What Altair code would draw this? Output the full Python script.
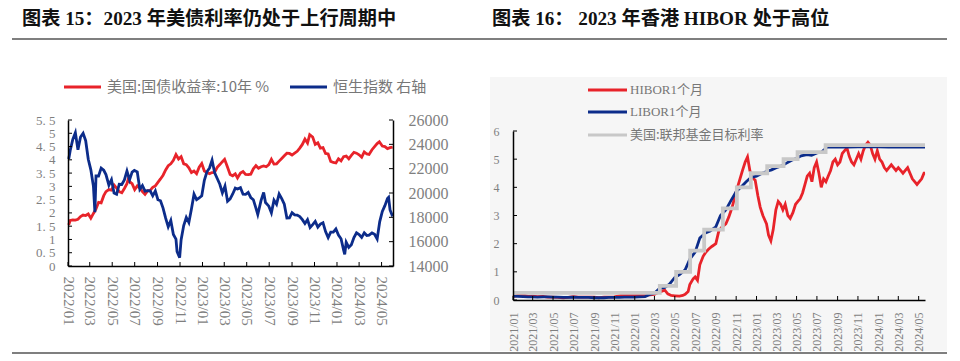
import altair as alt
import pandas as pd

# ---------------- left panel data ----------------
us10y_dates = ["2022-01-03","2022-01-07","2022-01-14","2022-01-21","2022-01-28","2022-02-04","2022-02-11","2022-02-18","2022-02-25",
"2022-03-04","2022-03-11","2022-03-18","2022-03-25","2022-04-01","2022-04-08","2022-04-14","2022-04-22","2022-04-29",
"2022-05-06","2022-05-13","2022-05-20","2022-05-27","2022-06-03","2022-06-10","2022-06-14","2022-06-17","2022-06-24",
"2022-07-01","2022-07-08","2022-07-15","2022-07-22","2022-07-29","2022-08-05","2022-08-12","2022-08-19","2022-08-26",
"2022-09-02","2022-09-09","2022-09-16","2022-09-23","2022-09-30","2022-10-07","2022-10-14","2022-10-21","2022-10-28",
"2022-11-04","2022-11-11","2022-11-18","2022-11-25","2022-12-02","2022-12-09","2022-12-16","2022-12-23","2022-12-30",
"2023-01-06","2023-01-13","2023-01-20","2023-01-27","2023-02-03","2023-02-10","2023-02-17","2023-02-24","2023-03-02",
"2023-03-10","2023-03-17","2023-03-24","2023-03-31","2023-04-06","2023-04-14","2023-04-21","2023-04-28","2023-05-05",
"2023-05-12","2023-05-19","2023-05-26","2023-06-02","2023-06-09","2023-06-16","2023-06-23","2023-06-30","2023-07-07",
"2023-07-14","2023-07-21","2023-07-28","2023-08-04","2023-08-11","2023-08-18","2023-08-25","2023-09-01","2023-09-08",
"2023-09-15","2023-09-22","2023-09-29","2023-10-06","2023-10-13","2023-10-19","2023-10-27","2023-11-03","2023-11-10",
"2023-11-17","2023-11-24","2023-12-01","2023-12-08","2023-12-15","2023-12-22","2023-12-29","2024-01-05","2024-01-12",
"2024-01-19","2024-01-26","2024-02-02","2024-02-09","2024-02-16","2024-02-23","2024-03-01","2024-03-08","2024-03-15",
"2024-03-22","2024-03-28","2024-04-05","2024-04-12","2024-04-19","2024-04-25","2024-05-03","2024-05-10","2024-05-17",
"2024-05-24","2024-05-31"]
us10y_values = [1.55,1.72,1.74,1.73,1.76,1.86,1.92,1.90,1.96,
1.80,1.98,2.15,2.40,2.38,2.65,2.80,2.88,2.86,
3.05,2.93,2.80,2.76,2.92,3.10,3.30,3.18,3.10,
2.88,3.02,2.93,2.80,2.70,2.83,2.85,2.96,3.02,
3.15,3.28,3.42,3.62,3.78,3.85,3.98,4.20,4.03,
4.12,3.85,3.82,3.70,3.52,3.58,3.48,3.72,3.86,
3.58,3.52,3.48,3.52,3.53,3.72,3.82,3.93,4.02,
3.72,3.45,3.40,3.47,3.32,3.50,3.56,3.45,3.44,
3.46,3.66,3.78,3.68,3.74,3.77,3.74,3.82,4.02,
3.84,3.85,3.95,4.05,4.15,4.25,4.24,4.18,4.25,
4.32,4.44,4.58,4.78,4.63,4.95,4.86,4.58,4.64,
4.44,4.46,4.24,4.22,3.94,3.90,3.88,4.04,3.96,
4.12,4.14,4.04,4.17,4.28,4.25,4.19,4.10,4.30,
4.22,4.20,4.38,4.50,4.61,4.68,4.52,4.50,4.42,
4.46,4.48]

hsi_dates = ["2022-01-03","2022-01-07","2022-01-14","2022-01-21","2022-01-28","2022-02-04","2022-02-11","2022-02-18","2022-02-25",
"2022-03-04","2022-03-11","2022-03-15","2022-03-18","2022-03-25","2022-04-01","2022-04-08","2022-04-14","2022-04-22","2022-04-29",
"2022-05-06","2022-05-13","2022-05-20","2022-05-27","2022-06-03","2022-06-10","2022-06-17","2022-06-24","2022-06-30",
"2022-07-08","2022-07-15","2022-07-22","2022-07-29","2022-08-05","2022-08-12","2022-08-19","2022-08-26",
"2022-09-02","2022-09-09","2022-09-16","2022-09-23","2022-09-30","2022-10-07","2022-10-14","2022-10-21","2022-10-24","2022-10-31",
"2022-11-04","2022-11-11","2022-11-18","2022-11-25","2022-12-02","2022-12-09","2022-12-16","2022-12-23","2022-12-30",
"2023-01-06","2023-01-13","2023-01-20","2023-01-27","2023-02-03","2023-02-10","2023-02-17","2023-02-24",
"2023-03-03","2023-03-10","2023-03-17","2023-03-24","2023-03-31","2023-04-06","2023-04-14","2023-04-21","2023-04-28",
"2023-05-05","2023-05-12","2023-05-19","2023-05-26","2023-05-31","2023-06-09","2023-06-16","2023-06-21","2023-06-30",
"2023-07-07","2023-07-14","2023-07-21","2023-07-28","2023-08-04","2023-08-11","2023-08-18","2023-08-25",
"2023-09-01","2023-09-08","2023-09-15","2023-09-22","2023-09-29","2023-10-06","2023-10-13","2023-10-20","2023-10-27",
"2023-11-03","2023-11-10","2023-11-17","2023-11-24","2023-12-01","2023-12-08","2023-12-15","2023-12-22","2023-12-29",
"2024-01-05","2024-01-12","2024-01-19","2024-01-22","2024-01-26","2024-02-02","2024-02-09","2024-02-16","2024-02-23",
"2024-03-01","2024-03-08","2024-03-15","2024-03-22","2024-03-28","2024-04-05","2024-04-12","2024-04-19","2024-04-26",
"2024-05-03","2024-05-10","2024-05-17","2024-05-20","2024-05-24","2024-05-31"]
hsi_values = [22800,23500,24400,24950,23550,24600,24900,24300,22770,
21900,20550,18420,21410,21400,22040,21870,21520,20640,21090,
20000,19900,20720,20700,21080,21810,21080,21720,21860,
21730,20300,20610,20160,20200,20180,19770,20170,
19450,19360,18760,17930,17220,17740,16590,16210,15180,14690,
16160,17330,17990,17570,18680,19900,19450,19590,19780,
21050,21740,22050,22690,21660,21190,20720,20010,
20570,19320,19520,19920,20400,20330,20440,19900,19890,
20050,19630,19450,18750,18230,19390,20040,19220,18920,
18370,19410,19080,19920,19540,19080,17950,17960,
18380,18200,18180,18060,17810,17490,17810,17170,17400,
17660,17200,17450,17560,16830,16340,16790,16790,17050,
16540,16240,15310,14960,15950,15530,15750,16340,16730,
16590,16350,16720,16500,16540,16720,16600,16220,17650,
18480,18960,19550,19640,18610,18080]

left_tick_months = ["2022-01","2022-03","2022-05","2022-07","2022-09","2022-11","2023-01","2023-03",
"2023-05","2023-07","2023-09","2023-11","2024-01","2024-03","2024-05"]
left_yield_ticks = [0, 0.5, 1, 1.5, 2, 2.5, 3, 3.5, 4, 4.5, 5, 5.5]
left_hsi_ticks = [14000, 16000, 18000, 20000, 22000, 24000, 26000]

# ---------------- right panel data ----------------
hibor_dates = ["2021-01-01","2021-01-15","2021-02-01","2021-02-15","2021-03-01","2021-03-15","2021-04-01","2021-04-15",
"2021-05-01","2021-05-15","2021-06-01","2021-06-15","2021-07-01","2021-07-15","2021-08-01","2021-08-15","2021-09-01",
"2021-09-15","2021-10-01","2021-10-15","2021-11-01","2021-11-15","2021-12-01","2021-12-15","2022-01-01","2022-01-15",
"2022-02-01","2022-02-15","2022-03-01","2022-03-15","2022-04-01","2022-04-10","2022-04-20","2022-05-01","2022-05-15",
"2022-05-25","2022-06-01","2022-06-10","2022-06-15","2022-06-25","2022-07-01","2022-07-08","2022-07-15","2022-07-25",
"2022-08-01","2022-08-10","2022-08-20","2022-09-01","2022-09-10","2022-09-20","2022-10-01","2022-10-10","2022-10-20",
"2022-11-01","2022-11-10","2022-11-20","2022-11-28","2022-12-05","2022-12-12","2022-12-19","2022-12-28","2023-01-05",
"2023-01-12","2023-01-20","2023-01-31","2023-02-06","2023-02-13","2023-02-20","2023-02-28","2023-03-07","2023-03-14",
"2023-03-21","2023-03-28","2023-04-05","2023-04-12","2023-04-20","2023-04-28","2023-05-05","2023-05-12","2023-05-19",
"2023-05-26","2023-06-02","2023-06-09","2023-06-16","2023-06-23","2023-06-30","2023-07-07","2023-07-14","2023-07-21",
"2023-07-28","2023-08-04","2023-08-11","2023-08-18","2023-08-25","2023-09-01","2023-09-08","2023-09-15","2023-09-22",
"2023-09-29","2023-10-06","2023-10-13","2023-10-20","2023-10-27","2023-11-03","2023-11-10","2023-11-17","2023-11-24",
"2023-12-01","2023-12-08","2023-12-15","2023-12-22","2023-12-29","2024-01-05","2024-01-12","2024-01-19","2024-01-26",
"2024-02-02","2024-02-09","2024-02-16","2024-02-23","2024-03-01","2024-03-08","2024-03-15","2024-03-22","2024-03-29",
"2024-04-05","2024-04-12","2024-04-19","2024-04-26","2024-05-03","2024-05-10","2024-05-17","2024-05-20"]
hibor_values = [0.12,0.16,0.18,0.13,0.14,0.12,0.13,0.10,
0.10,0.09,0.08,0.09,0.12,0.10,0.10,0.10,0.10,
0.08,0.10,0.10,0.11,0.15,0.20,0.19,0.17,0.18,
0.17,0.18,0.20,0.28,0.35,0.22,0.16,0.15,0.14,
0.16,0.20,0.30,0.55,0.75,0.82,0.70,1.25,1.55,
1.68,1.80,1.90,2.00,2.45,2.60,2.70,2.95,3.30,
3.85,4.20,4.60,4.90,5.08,4.60,4.35,4.25,3.70,
3.30,3.00,2.70,2.30,2.10,2.50,3.20,3.50,3.40,
3.20,3.40,3.00,2.90,3.10,3.40,3.50,3.60,3.80,
4.10,4.40,4.50,4.20,4.70,4.90,4.50,4.00,4.30,
4.20,4.40,4.60,4.90,5.00,4.80,4.90,5.20,5.30,
5.40,5.10,4.90,4.80,5.00,5.20,5.00,5.30,5.50,
5.60,5.50,5.20,5.00,5.30,5.00,4.90,4.70,4.60,
4.70,4.80,4.70,4.60,4.70,4.60,4.50,4.60,4.70,
4.50,4.30,4.20,4.10,4.20,4.30,4.50,4.50]

libor_dates = ["2021-01-01","2021-01-15","2021-02-01","2021-02-15","2021-03-01","2021-03-15","2021-04-01","2021-04-15",
"2021-05-01","2021-05-15","2021-06-01","2021-06-15","2021-07-01","2021-07-15","2021-08-01","2021-08-15","2021-09-01",
"2021-09-15","2021-10-01","2021-10-15","2021-11-01","2021-11-15","2021-12-01","2021-12-15","2022-01-01","2022-01-15",
"2022-02-01","2022-02-15","2022-03-01","2022-03-15","2022-04-01","2022-04-15","2022-05-01","2022-05-15","2022-06-01",
"2022-06-15","2022-07-01","2022-07-15","2022-08-01","2022-08-15","2022-09-01","2022-09-15","2022-10-01","2022-10-15",
"2022-11-01","2022-11-15","2022-12-01","2022-12-15","2023-01-01","2023-01-15","2023-02-01","2023-02-15","2023-03-01",
"2023-03-15","2023-04-01","2023-04-15","2023-05-01","2023-05-15","2023-06-01","2023-06-15","2023-07-01","2023-07-15",
"2023-08-01","2023-09-01","2023-10-01","2023-11-01","2023-12-01","2024-01-01","2024-02-01","2024-03-01","2024-04-01",
"2024-05-01","2024-05-20"]
libor_values = [0.14,0.13,0.12,0.11,0.11,0.10,0.11,0.11,
0.10,0.10,0.09,0.09,0.10,0.09,0.09,0.09,0.08,
0.08,0.08,0.09,0.09,0.09,0.10,0.10,0.10,0.11,
0.12,0.20,0.24,0.40,0.45,0.56,0.80,0.90,1.07,
1.45,1.70,2.20,2.38,2.45,2.60,3.00,3.20,3.50,
3.85,4.00,4.20,4.35,4.40,4.48,4.57,4.62,4.70,
4.75,4.86,4.95,5.03,5.12,5.16,5.14,5.22,5.25,
5.43,5.43,5.43,5.44,5.45,5.44,5.43,5.43,5.43,
5.43,5.43]

fed_dates = ["2021-01-01","2022-03-17","2022-05-05","2022-06-16","2022-07-28","2022-09-22","2022-11-03",
"2022-12-15","2023-02-02","2023-03-23","2023-05-04","2023-07-27","2024-05-20"]
fed_values = [0.25,0.50,1.00,1.75,2.50,3.25,4.00,4.50,4.75,5.00,5.25,5.50,5.50]

right_tick_months = ["2021-01","2021-03","2021-05","2021-07","2021-09","2021-11","2022-01","2022-03","2022-05",
"2022-07","2022-09","2022-11","2023-01","2023-03","2023-05","2023-07","2023-09","2023-11","2024-01","2024-03","2024-05"]
right_y_ticks = [0, 1, 2, 3, 4, 5, 6]

# ---------------- texts ----------------
title_left = "图表 15：2023 年美债利率仍处于上行周期中"
title_right = "图表 16：  2023 年香港 HIBOR 处于高位"
legend_left = ["美国:国债收益率:10年 %", "恒生指数 右轴"]
legend_right = ["HIBOR1个月", "LIBOR1个月", "美国:联邦基金目标利率"]

# ---------------- styles / layout (pixels inside the chart) ----------------
RED = "#e8232a"
BLUE = "#0c2c8a"
GRAY = "#c8c8c8"
LABEL = "#7f7f7f"
SERIF = "Liberation Serif"
MIXED = "Liberation Serif, Noto Sans CJK SC"
CJK = "Noto Sans CJK SC"

W, H = 944, 350
# left panel plot box
LX0, LX1, LY0, LY1 = 60, 385, 112, 258
# right panel plot box
RX0, RX1, RY0, RY1 = 505, 917, 123, 292
FOOT = 345


def dt(s):
    return alt.DateTime(year=int(s[:4]), month=int(s[5:7]), date=int(s[8:10]) if len(s) > 7 else 1)


def text_layer(txt, x, y, size, color, weight="normal", font=MIXED):
    return alt.Chart(pd.DataFrame({"t": [txt]})).mark_text(
        align="left", baseline="middle", fontSize=size, font=font,
        color=color, fontWeight=weight
    ).encode(text="t:N", x=alt.value(x), y=alt.value(y))


def hline(x1, x2, y, color, width):
    return alt.Chart(pd.DataFrame({"a": [0]})).mark_rule(
        color=color, strokeWidth=width
    ).encode(x=alt.value(x1), x2=alt.value(x2), y=alt.value(y))


def x_axis(values, angle, size, pad, y_pos):
    return alt.Axis(title=None, format="%Y/%m", values=values, labelAngle=angle,
                    orient="bottom", offset=y_pos - H, zindex=1,
                    ticks=False, tickSize=0, grid=False, labelOverlap=False,
                    labelFlush=False, labelColor=LABEL, labelFont=SERIF,
                    labelFontSize=size, labelPadding=pad, domainColor="#000",
                    domainWidth=1.5)


def y_axis(values, orient, x_pos, size, pad, fmt, expr=None):
    off = -x_pos if orient == "left" else x_pos - W
    kw = dict(title=None, values=values, orient=orient, offset=off, zindex=1,
              ticks=False, tickSize=0, grid=False, labelColor=LABEL,
              labelFont=SERIF, labelFontSize=size, labelPadding=pad,
              domainColor="#000", domainWidth=1.5, format=fmt, labelOverlap=False)
    if expr:
        kw["labelExpr"] = expr
    return alt.Axis(**kw)


# ---------------- left panel ----------------
xs_left = alt.Scale(domain=[dt("2022-01"), dt("2024-06")], range=[LX0, LX1])
ys_yield = alt.Scale(domain=[0, 5.5], nice=False, zero=False, range=[LY1, LY0])
ys_hsi = alt.Scale(domain=[14000, 26000], nice=False, zero=False, range=[LY1, LY0])

df_us = pd.DataFrame({"date": pd.to_datetime(us10y_dates), "v": us10y_values})
df_hsi = pd.DataFrame({"date": pd.to_datetime(hsi_dates), "v": hsi_values})

red_left = alt.Chart(df_us).mark_line(color=RED, strokeWidth=2.8).encode(
    x=alt.X("date:T", scale=xs_left,
            axis=x_axis([dt(m) for m in left_tick_months], 90, 15, 10, LY1)),
    y=alt.Y("v:Q", scale=ys_yield,
            axis=y_axis(left_yield_ticks, "left", LX0, 13, 13, "~g",
                        "replace(datum.label, '.', '. ')")),
)
blue_left = alt.Chart(df_hsi).mark_line(color=BLUE, strokeWidth=2.8).encode(
    x=alt.X("date:T", scale=xs_left, axis=None),
    y=alt.Y("v:Q", scale=ys_hsi,
            axis=y_axis(left_hsi_ticks, "right", LX1, 16, 15, "d")),
)
ytick_yield = alt.Chart(pd.DataFrame({"v": left_yield_ticks})).mark_rule(color="#000").encode(
    y=alt.Y("v:Q", scale=ys_yield, axis=None), x=alt.value(LX0), x2=alt.value(LX0 + 4))
ytick_hsi = alt.Chart(pd.DataFrame({"v": left_hsi_ticks})).mark_rule(color="#000").encode(
    y=alt.Y("v:Q", scale=ys_hsi, axis=None), x=alt.value(LX1), x2=alt.value(LX1 - 4))
xtick_left = alt.Chart(pd.DataFrame({"date": pd.to_datetime(left_tick_months)})).mark_rule(color="#000").encode(
    x=alt.X("date:T", scale=xs_left, axis=None), y=alt.value(LY1), y2=alt.value(LY1 - 4))

# ---------------- right panel ----------------
xs_right = alt.Scale(domain=[dt("2021-01"), dt("2024-05-20")], range=[RX0, RX1])
ys_right = alt.Scale(domain=[0, 6], nice=False, zero=False, range=[RY1, RY0])

df_hibor = pd.DataFrame({"date": pd.to_datetime(hibor_dates), "v": hibor_values})
df_libor = pd.DataFrame({"date": pd.to_datetime(libor_dates), "v": libor_values})
df_fed = pd.DataFrame({"date": pd.to_datetime(fed_dates), "v": fed_values})

bg = alt.Chart(pd.DataFrame({"a": [0]})).mark_rect(color="#f6f6f6").encode(
    x=alt.value(482), x2=alt.value(939), y=alt.value(69), y2=alt.value(FOOT - 2))

red_right = alt.Chart(df_hibor).mark_line(color=RED, strokeWidth=2.8).encode(
    x=alt.X("date:T", scale=xs_right,
            axis=x_axis([dt(m) for m in right_tick_months], 270, 12, 12, RY1)),
    y=alt.Y("v:Q", scale=ys_right,
            axis=y_axis(right_y_ticks, "left", RX0, 12, 14, "d")),
)
blue_right = alt.Chart(df_libor).mark_line(color=BLUE, strokeWidth=2.8).encode(
    x=alt.X("date:T", scale=xs_right, axis=None), y=alt.Y("v:Q", scale=ys_right, axis=None))
gray_right = alt.Chart(df_fed).mark_line(color=GRAY, strokeWidth=3.8, interpolate="step-after").encode(
    x=alt.X("date:T", scale=xs_right, axis=None), y=alt.Y("v:Q", scale=ys_right, axis=None))
ytick_right = alt.Chart(pd.DataFrame({"v": right_y_ticks})).mark_rule(color="#000").encode(
    y=alt.Y("v:Q", scale=ys_right, axis=None), x=alt.value(RX0), x2=alt.value(RX0 + 4))
xtick_right = alt.Chart(pd.DataFrame({"date": pd.to_datetime(right_tick_months)})).mark_rule(color="#000").encode(
    x=alt.X("date:T", scale=xs_right, axis=None), y=alt.value(RY1), y2=alt.value(RY1 - 4))

deco = [
    # left panel header / footer / legend
    text_layer(title_left, 14, 11, 19.2, "#111", "bold"),
    hline(4, 472, 31, "#555", 1.3),
    hline(4, 472, FOOT, "#555", 1.6),
    hline(56, 93, 79, RED, 3),
    text_layer(legend_left[0], 99, 79, 15, "#777", font=CJK),
    hline(282, 319, 79, BLUE, 3),
    text_layer(legend_left[1], 325, 79, 15, "#777", font=CJK),
    # right panel header / footer / legend
    text_layer(title_right, 484, 11, 19.2, "#111", "bold"),
    hline(472, 939, 31, "#555", 1.3),
    hline(472, 939, FOOT, "#555", 1.6),
    hline(580, 619, 82, RED, 3),
    text_layer(legend_right[0], 622, 82, 13, "#777"),
    hline(580, 619, 104, BLUE, 3),
    text_layer(legend_right[1], 622, 104, 13, "#777"),
    hline(580, 619, 127, GRAY, 3),
    text_layer(legend_right[2], 622, 127, 13, "#777", font=CJK),
]

chart = alt.layer(
    bg, red_left, blue_left, ytick_yield, ytick_hsi, xtick_left,
    red_right, blue_right, gray_right, ytick_right, xtick_right, *deco
).resolve_scale(x="independent", y="independent").properties(
    width=W, height=H, padding=0, background="white",
    autosize=alt.AutoSizeParams(type="none"),
).configure_view(stroke=None)

chart.save("out.html", embed_options={"renderer": "svg", "actions": False})
